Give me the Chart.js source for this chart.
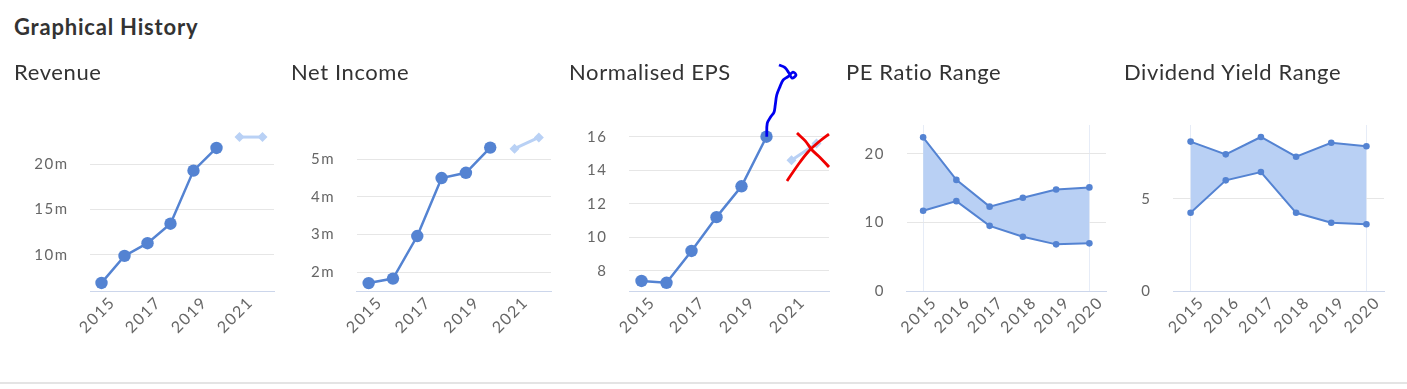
<!DOCTYPE html>
<html><head><meta charset="utf-8">
<script src="https://cdn.jsdelivr.net/npm/chart.js@4.4.1/dist/chart.umd.min.js"></script>
<style>
html,body{margin:0;padding:0;background:#fff;width:1407px;height:389px;overflow:hidden;font-family:Lato,"Noto Sans",sans-serif;}
#heading{position:absolute;left:14px;top:13px;font-size:22px;font-weight:700;color:#333;line-height:28px;letter-spacing:0.8px;white-space:nowrap;}
.panel{position:absolute;top:50px;width:277px;height:300px;}
.panel canvas{position:absolute;left:0;top:0;letter-spacing:1.5px;}
.panel .t{position:absolute;left:0;top:8px;font-size:22px;color:#333;line-height:28px;letter-spacing:0.6px;white-space:nowrap;pointer-events:none;}
#rule{position:absolute;left:0;top:382px;width:1407px;height:2px;background:#e4e4e4;}
</style></head><body>
<div id="heading">Graphical History</div>
<div class="panel" style="left:14px"><canvas id="c0" width="277" height="300"></canvas><div class="t">Revenue</div></div>
<div class="panel" style="left:291px"><canvas id="c1" width="277" height="300"></canvas><div class="t">Net Income</div></div>
<div class="panel" style="left:569px"><canvas id="c2" width="277" height="300"></canvas><div class="t">Normalised EPS</div></div>
<div class="panel" style="left:846px"><canvas id="c3" width="277" height="300"></canvas><div class="t">PE Ratio Range</div></div>
<div class="panel" style="left:1124px"><canvas id="c4" width="277" height="300"></canvas><div class="t">Dividend Yield Range</div></div>
<div id="rule"></div>
<script>
// ---- data ----
const yearsLong = ['2015','2016','2017','2018','2019','2020','2021','2022'];
const yearsRange = ['2015','2016','2017','2018','2019','2020'];

const revenueActual   = [6.92, 9.9, 11.3, 13.45, 19.3, 21.8, null, null];
const revenueForecast = [null, null, null, null, null, null, 23.0, 23.0];

const netIncomeActual   = [1.71, 1.83, 2.96, 4.50, 4.64, 5.31, null, null];
const netIncomeForecast = [null, null, null, null, null, null, 5.28, 5.58];

const epsActual   = [7.39, 7.28, 9.18, 11.2, 13.04, 16.0, null, null];
const epsForecast = [null, null, null, null, null, null, 14.6, 15.6];

const peHigh = [22.4, 16.2, 12.3, 13.6, 14.8, 15.1];
const peLow  = [11.7, 13.1, 9.5, 7.9, 6.8, 6.95];

const divHigh = [8.1, 7.41, 8.35, 7.28, 8.04, 7.85];
const divLow  = [4.24, 6.0, 6.45, 4.24, 3.70, 3.62];

// hand-drawn annotations on the EPS panel (category index, value)
const annotBlue = [{x:5.01,y:16.0},{x:5.03,y:16.8},{x:5.17,y:17.19},{x:5.30,y:17.46},{x:5.35,y:17.89},{x:5.41,y:18.49},{x:5.54,y:18.99},{x:5.67,y:19.39},{x:5.86,y:19.59},{x:6.06,y:19.86},{x:6.18,y:19.68},{x:6.02,y:19.50},{x:5.90,y:19.80},{x:5.74,y:20.13},{x:5.50,y:20.28}];
const annotRed1 = [{x:6.22,y:16.22},{x:6.55,y:15.75},{x:6.82,y:15.21},{x:7.15,y:14.75},{x:7.5,y:14.19}];
const annotRed2 = [{x:7.5,y:16.16},{x:7.1,y:15.7},{x:6.66,y:15.09},{x:6.25,y:14.3},{x:5.82,y:13.36}];

// ---- styling ----
const BLUE = '#5483d2';
const LIGHT = '#b9d1f5';
const FILL = '#b9d0f4';
const Y_FONT = {family:'Lato', size:15};
const X_FONT = {family:'Lato', size:16};
const TICK_COLOR = '#666';

const spacingPlugin = {
  id:'spacing',
  beforeLayout(chart){ try{ chart.ctx.letterSpacing = '1.5px'; }catch(e){} },
  beforeDraw(chart){ try{ chart.ctx.letterSpacing = '1.5px'; }catch(e){} }
};

function xAxis(showGridEnds, nLabels, skipOdd){
  return {
    type:'category',
    offset:true,
    grid:{
      display: showGridEnds,
      drawTicks:false,
      color: ctx => (ctx.index===0 || ctx.index===nLabels-1) ? '#e6ecf7' : 'rgba(0,0,0,0)',
      lineWidth:1
    },
    border:{display:true,color:'#ccd6eb',width:1},
    ticks:{
      autoSkip:false, minRotation:45, maxRotation:45,
      font:X_FONT, color:TICK_COLOR, padding:2, labelOffset:11,
      callback:function(v,i){ return (skipOdd && i%2===1) ? '' : this.getLabelForValue(v); }
    },
    afterFit: s => { s.height = 59; }
  };
}
function yAxis(min,max,step,suffix,width){
  return {
    min:min, max:max,
    grid:{color:'#e6e6e6',lineWidth:1,drawTicks:false},
    border:{display:false},
    ticks:{stepSize:step, includeBounds:false, font:Y_FONT, color:TICK_COLOR, padding:21.5,
      callback: v => v + suffix},
    afterFit: s => { s.width = width; }
  };
}
const baseOpts = {
  responsive:false, animation:false, devicePixelRatio:1,
  layout:{padding:{top:75,right:17,bottom:0,left:0}},
  plugins:{legend:{display:false}, tooltip:{enabled:false}, title:{display:false}},
  events:[]
};

function lineChart(id, actual, forecast, yMin, yMax, step, suffix, width, extra){
  const datasets = (extra||[]).concat([
    {data:actual, borderColor:BLUE, backgroundColor:BLUE, borderWidth:2.5, pointRadius:6.2, pointBorderWidth:0, pointStyle:'circle', tension:0, spanGaps:false},
    {data:forecast, borderColor:LIGHT, backgroundColor:LIGHT, borderWidth:3, pointRadius:5, pointBorderWidth:0, pointStyle:'rectRot', tension:0}
  ]);
  const scales = {x:xAxis(false, yearsLong.length, true), y:yAxis(yMin,yMax,step,suffix,width)};
  if (extra) scales.xs = {type:'linear', display:false, min:-0.5, max:yearsLong.length-0.5};
  new Chart(document.getElementById(id), {
    type:'line',
    data:{labels:yearsLong, datasets:datasets},
    options:Object.assign({}, baseOpts, {scales:scales}),
    plugins:[spacingPlugin]
  });
}
function rangeChart(id, low, high, yMax, step, width){
  new Chart(document.getElementById(id), {
    type:'line',
    data:{labels:yearsRange, datasets:[
      {data:low, borderColor:BLUE, backgroundColor:BLUE, borderWidth:2, pointRadius:3.3, pointBorderWidth:0, fill:false, tension:0},
      {data:high, borderColor:BLUE, backgroundColor:FILL, borderWidth:2, pointRadius:3.3, pointBorderWidth:0, pointBackgroundColor:BLUE, fill:'-1', tension:0}
    ]},
    options:Object.assign({}, baseOpts, {scales:{x:xAxis(true, yearsRange.length, false), y:yAxis(0,yMax,step,'',width)}}),
    plugins:[spacingPlugin]
  });
}

const scribble = (d,c) => ({data:d, xAxisID:'xs', borderColor:c, backgroundColor:c, borderWidth:2.8, pointRadius:0, tension:0.35, clip:false, fill:false});

lineChart('c0', revenueActual, revenueForecast, 6.03, 24.33, 5, 'm', 76);
lineChart('c1', netIncomeActual, netIncomeForecast, 1.5, 5.91, 1, 'm', 65.5);
lineChart('c2', epsActual, epsForecast, 6.79, 16.7, 2, '', 60,
  [scribble(annotBlue,'#0000f0'), scribble(annotRed1,'#f00000'), scribble(annotRed2,'#f00000')]);
rangeChart('c3', peLow, peHigh, 24.2, 10, 60.5);
rangeChart('c4', divLow, divHigh, 9.0, 5, 49);
</script>
</body></html>
